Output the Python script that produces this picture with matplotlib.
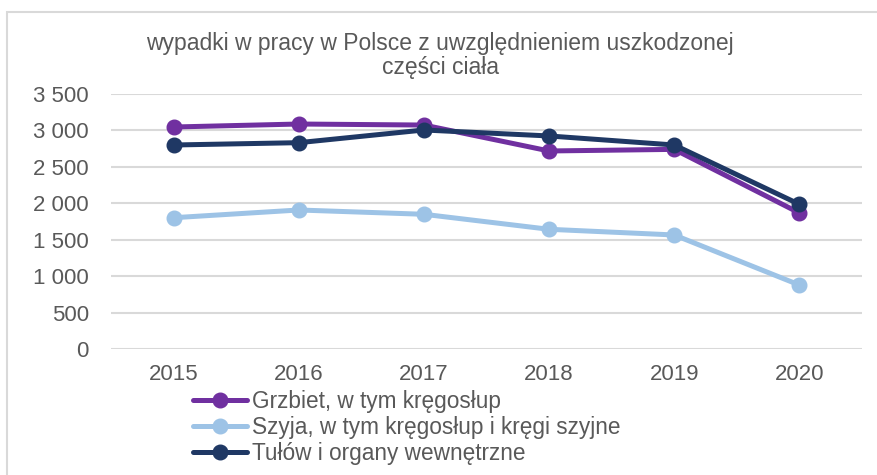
import matplotlib
matplotlib.use("Agg")
import matplotlib.pyplot as plt
from matplotlib.patches import Rectangle
from matplotlib.ticker import FuncFormatter

years = ["2015", "2016", "2017", "2018", "2019", "2020"]
grzbiet = [3047, 3088, 3074, 2718, 2740, 1867]
szyja = [1802, 1908, 1849, 1643, 1565, 878]
tulow = [2800, 2832, 3006, 2924, 2800, 1986]
series_names = ["Grzbiet, w tym kręgosłup",
                "Szyja, w tym kręgosłup i kręgi szyjne",
                "Tułów i organy wewnętrzne"]
colors = ["#7030A0", "#9DC3E6", "#1F3864"]
title = "wypadki w pracy w Polsce z uwzględnieniem uszkodzonej\nczęści ciała"

plt.rcParams['font.family'] = ['Liberation Sans', 'DejaVu Sans']
W, H = 878, 475
fig = plt.figure(figsize=(W/100, H/100), dpi=100)
fig.patch.set_facecolor("white")
fig.patches.append(Rectangle((7/W, -0.1), 2.0, (H-12)/H + 0.1, transform=fig.transFigure,
                             fill=False, edgecolor="#D9D9D9", linewidth=1.5))

ax = fig.add_axes([111/W, 126/H, 751/W, 255/H])
x = list(range(len(years)))
for vals, name, c in zip([grzbiet, szyja, tulow], series_names, colors):
    ax.plot(x, vals, color=c, linewidth=3.6, marker="o", markersize=10.5, label=name,
            solid_capstyle="round", zorder=3)

ax.set_xlim(-0.5, len(years) - 0.5)
ax.set_ylim(0, 3500)
ax.set_yticks(range(0, 3501, 500))
ax.yaxis.set_major_formatter(FuncFormatter(lambda v, p: f"{int(v):,}".replace(",", " ")))
ax.set_xticks(x)
ax.set_xticklabels(years)
ax.grid(axis="y", color="#D9D9D9", linewidth=1.5)
ax.set_axisbelow(True)
for s in ax.spines.values():
    s.set_visible(False)
ax.tick_params(axis="both", length=0, labelsize=16, colors="#595959")
ax.tick_params(axis="y", pad=16)
ax.tick_params(axis="x", pad=11)

fig.text(440/W, 1 - 55.5/H, title, ha="center", va="center", fontsize=16.5,
         color="#595959", linespacing=1.08)

handles, labels = ax.get_legend_handles_labels()
leg = fig.legend(handles, labels, loc="upper left", bbox_to_anchor=(193/W, 1 - 390/H),
                 frameon=False, fontsize=16.3, handlelength=2.4, handletextpad=0.22,
                 labelspacing=0.14, borderpad=0, borderaxespad=0)
for t in leg.get_texts():
    t.set_color("#595959")

fig.savefig("out.png", dpi=100)
